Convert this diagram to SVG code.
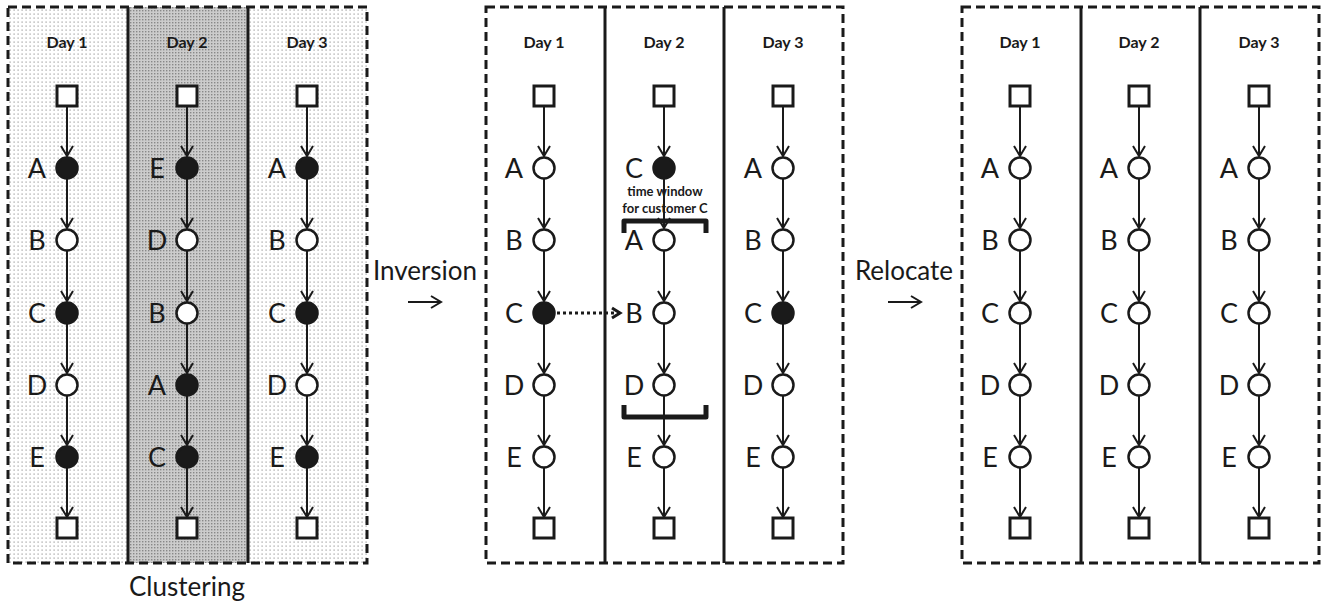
<svg xmlns="http://www.w3.org/2000/svg" width="1327" height="605" viewBox="0 0 1327 605">
<defs>
<pattern id="dots" width="4" height="4" patternUnits="userSpaceOnUse"><rect width="4" height="4" fill="#ffffff"/><rect x="1.5" y="1.5" width="1.2" height="1.2" fill="#9a9a9a"/></pattern>
<pattern id="dense" width="3" height="3" patternUnits="userSpaceOnUse"><rect width="3" height="3" fill="#cccccc"/><rect x="1" y="1" width="1.4" height="1.4" fill="#888888"/></pattern>
<marker id="ah" markerUnits="userSpaceOnUse" markerWidth="14" markerHeight="14" refX="11" refY="6" orient="auto" overflow="visible"><path d="M1,0 L11,6 L1,12" fill="none" stroke="#1a1a1a" stroke-width="2"/></marker>
<marker id="ahd" markerUnits="userSpaceOnUse" markerWidth="14" markerHeight="14" refX="10" refY="6" orient="auto" overflow="visible"><path d="M2,1 L10,6 L2,11" fill="none" stroke="#1a1a1a" stroke-width="3"/></marker>
</defs>
<style>
.frame{fill:none;stroke:#1a1a1a;stroke-width:3;stroke-dasharray:9 5}
.div{stroke:#1a1a1a;stroke-width:3}
.sq{fill:#fff;stroke:#1a1a1a;stroke-width:3}
.o{fill:#fff;stroke:#1a1a1a;stroke-width:2.5}
.f{fill:#1a1a1a;stroke:#1a1a1a;stroke-width:2.5}
.lbl{font-family:Lato,"Liberation Sans",sans-serif;font-size:27px;fill:#1a1a1a;text-anchor:middle}
.day{font-family:Lato,"Liberation Sans",sans-serif;font-size:16px;font-weight:bold;fill:#1a1a1a;text-anchor:middle}
.cap{font-family:Lato,"Liberation Sans",sans-serif;font-size:26px;fill:#1a1a1a;text-anchor:middle}
.tw{font-family:Lato,"Liberation Sans",sans-serif;font-size:13px;font-weight:bold;fill:#1a1a1a;text-anchor:middle}
.e{stroke:#1a1a1a;stroke-width:2;fill:none;marker-end:url(#ah)}
.br{fill:none;stroke:#1a1a1a;stroke-width:5;stroke-linejoin:round}
</style>

<g id="panel1-bg">
<rect x="8" y="7" width="120" height="556" fill="url(#dots)"/>
<rect x="128" y="7" width="120" height="556" fill="url(#dense)"/>
<rect x="248" y="7" width="119" height="556" fill="url(#dots)"/>
<line class="div" x1="128" y1="7" x2="128" y2="563"/>
<line class="div" x1="248" y1="7" x2="248" y2="563"/>
<rect class="frame" x="8" y="7" width="359" height="556"/>
</g>
<g id="panel2-bg">
<line class="div" x1="605" y1="7" x2="605" y2="563"/>
<line class="div" x1="724" y1="7" x2="724" y2="563"/>
<rect class="frame" x="486" y="7" width="357" height="556"/>
</g>
<g id="panel3-bg">
<line class="div" x1="1081" y1="7" x2="1081" y2="563"/>
<line class="div" x1="1200" y1="7" x2="1200" y2="563"/>
<rect class="frame" x="962" y="7" width="357" height="556"/>
</g>

<g id="connectors">
<path class="e" d="M67,107 V156"/><path class="e" d="M67,179 V228"/><path class="e" d="M67,251 V301"/><path class="e" d="M67,324 V373"/><path class="e" d="M67,396 V445"/><path class="e" d="M67,468 V517"/>
<path class="e" d="M187,107 V156"/><path class="e" d="M187,179 V228"/><path class="e" d="M187,251 V301"/><path class="e" d="M187,324 V373"/><path class="e" d="M187,396 V445"/><path class="e" d="M187,468 V517"/>
<path class="e" d="M307,107 V156"/><path class="e" d="M307,179 V228"/><path class="e" d="M307,251 V301"/><path class="e" d="M307,324 V373"/><path class="e" d="M307,396 V445"/><path class="e" d="M307,468 V517"/>
<path class="e" d="M544,107 V156"/><path class="e" d="M544,179 V228"/><path class="e" d="M544,251 V301"/><path class="e" d="M544,324 V373"/><path class="e" d="M544,396 V445"/><path class="e" d="M544,468 V517"/>
<path class="e" d="M664,107 V156"/><path class="e" d="M664,179 V228"/><path class="e" d="M664,251 V301"/><path class="e" d="M664,324 V373"/><path class="e" d="M664,396 V445"/><path class="e" d="M664,468 V517"/>
<path class="e" d="M783,107 V156"/><path class="e" d="M783,179 V228"/><path class="e" d="M783,251 V301"/><path class="e" d="M783,324 V373"/><path class="e" d="M783,396 V445"/><path class="e" d="M783,468 V517"/>
<path class="e" d="M1020,107 V156"/><path class="e" d="M1020,179 V228"/><path class="e" d="M1020,251 V301"/><path class="e" d="M1020,324 V373"/><path class="e" d="M1020,396 V445"/><path class="e" d="M1020,468 V517"/>
<path class="e" d="M1139,107 V156"/><path class="e" d="M1139,179 V228"/><path class="e" d="M1139,251 V301"/><path class="e" d="M1139,324 V373"/><path class="e" d="M1139,396 V445"/><path class="e" d="M1139,468 V517"/>
<path class="e" d="M1259,107 V156"/><path class="e" d="M1259,179 V228"/><path class="e" d="M1259,251 V301"/><path class="e" d="M1259,324 V373"/><path class="e" d="M1259,396 V445"/><path class="e" d="M1259,468 V517"/>
<line x1="557" y1="313" x2="620" y2="313" stroke="#1a1a1a" stroke-width="3" stroke-dasharray="3 3" marker-end="url(#ahd)"/>
<line x1="408" y1="302" x2="441" y2="302" stroke="#1a1a1a" stroke-width="2" marker-end="url(#ah)"/>
<line x1="888" y1="302" x2="921" y2="302" stroke="#1a1a1a" stroke-width="2" marker-end="url(#ah)"/>
</g>

<g id="p1-day1">
<text class="day" x="67" y="48">Day 1</text>
<rect class="sq" x="57" y="86" width="20" height="20"/>
<circle class="f" cx="67" cy="168" r="10.5"/><text class="lbl" x="37" y="178">A</text>
<circle class="o" cx="67" cy="240" r="10.5"/><text class="lbl" x="37" y="250">B</text>
<circle class="f" cx="67" cy="313" r="10.5"/><text class="lbl" x="37" y="323">C</text>
<circle class="o" cx="67" cy="385" r="10.5"/><text class="lbl" x="37" y="395">D</text>
<circle class="f" cx="67" cy="457" r="10.5"/><text class="lbl" x="37" y="467">E</text>
<rect class="sq" x="57" y="518" width="20" height="20"/>
</g>
<g id="p1-day2">
<text class="day" x="187" y="48">Day 2</text>
<rect class="sq" x="177" y="86" width="20" height="20"/>
<circle class="f" cx="187" cy="168" r="10.5"/><text class="lbl" x="157" y="178">E</text>
<circle class="o" cx="187" cy="240" r="10.5"/><text class="lbl" x="157" y="250">D</text>
<circle class="o" cx="187" cy="313" r="10.5"/><text class="lbl" x="157" y="323">B</text>
<circle class="f" cx="187" cy="385" r="10.5"/><text class="lbl" x="157" y="395">A</text>
<circle class="f" cx="187" cy="457" r="10.5"/><text class="lbl" x="157" y="467">C</text>
<rect class="sq" x="177" y="518" width="20" height="20"/>
</g>
<g id="p1-day3">
<text class="day" x="307" y="48">Day 3</text>
<rect class="sq" x="297" y="86" width="20" height="20"/>
<circle class="f" cx="307" cy="168" r="10.5"/><text class="lbl" x="277" y="178">A</text>
<circle class="o" cx="307" cy="240" r="10.5"/><text class="lbl" x="277" y="250">B</text>
<circle class="f" cx="307" cy="313" r="10.5"/><text class="lbl" x="277" y="323">C</text>
<circle class="o" cx="307" cy="385" r="10.5"/><text class="lbl" x="277" y="395">D</text>
<circle class="f" cx="307" cy="457" r="10.5"/><text class="lbl" x="277" y="467">E</text>
<rect class="sq" x="297" y="518" width="20" height="20"/>
</g>

<g id="p2-day1">
<text class="day" x="544" y="48">Day 1</text>
<rect class="sq" x="534" y="86" width="20" height="20"/>
<circle class="o" cx="544" cy="168" r="10.5"/><text class="lbl" x="514" y="178">A</text>
<circle class="o" cx="544" cy="240" r="10.5"/><text class="lbl" x="514" y="250">B</text>
<circle class="f" cx="544" cy="313" r="10.5"/><text class="lbl" x="514" y="323">C</text>
<circle class="o" cx="544" cy="385" r="10.5"/><text class="lbl" x="514" y="395">D</text>
<circle class="o" cx="544" cy="457" r="10.5"/><text class="lbl" x="514" y="467">E</text>
<rect class="sq" x="534" y="518" width="20" height="20"/>
</g>
<g id="p2-day2">
<text class="day" x="664" y="48">Day 2</text>
<rect class="sq" x="654" y="86" width="20" height="20"/>
<circle class="f" cx="664" cy="168" r="10.5"/><text class="lbl" x="634" y="178">C</text>
<circle class="o" cx="664" cy="240" r="10.5"/><text class="lbl" x="634" y="250">A</text>
<circle class="o" cx="664" cy="313" r="10.5"/><text class="lbl" x="634" y="323">B</text>
<circle class="o" cx="664" cy="385" r="10.5"/><text class="lbl" x="634" y="395">D</text>
<circle class="o" cx="664" cy="457" r="10.5"/><text class="lbl" x="634" y="467">E</text>
<rect class="sq" x="654" y="518" width="20" height="20"/>
</g>
<g id="p2-day3">
<text class="day" x="783" y="48">Day 3</text>
<rect class="sq" x="773" y="86" width="20" height="20"/>
<circle class="o" cx="783" cy="168" r="10.5"/><text class="lbl" x="753" y="178">A</text>
<circle class="o" cx="783" cy="240" r="10.5"/><text class="lbl" x="753" y="250">B</text>
<circle class="f" cx="783" cy="313" r="10.5"/><text class="lbl" x="753" y="323">C</text>
<circle class="o" cx="783" cy="385" r="10.5"/><text class="lbl" x="753" y="395">D</text>
<circle class="o" cx="783" cy="457" r="10.5"/><text class="lbl" x="753" y="467">E</text>
<rect class="sq" x="773" y="518" width="20" height="20"/>
</g>
<g id="time-window">
<text class="tw" x="665" y="196">time window</text>
<text class="tw" x="665" y="213">for customer C</text>
<path class="br" d="M624,233 V221 H706 V233"/>
<path class="br" d="M624,405 V417 H706 V405"/>
</g>

<g id="p3-day1">
<text class="day" x="1020" y="48">Day 1</text>
<rect class="sq" x="1010" y="86" width="20" height="20"/>
<circle class="o" cx="1020" cy="168" r="10.5"/><text class="lbl" x="990" y="178">A</text>
<circle class="o" cx="1020" cy="240" r="10.5"/><text class="lbl" x="990" y="250">B</text>
<circle class="o" cx="1020" cy="313" r="10.5"/><text class="lbl" x="990" y="323">C</text>
<circle class="o" cx="1020" cy="385" r="10.5"/><text class="lbl" x="990" y="395">D</text>
<circle class="o" cx="1020" cy="457" r="10.5"/><text class="lbl" x="990" y="467">E</text>
<rect class="sq" x="1010" y="518" width="20" height="20"/>
</g>
<g id="p3-day2">
<text class="day" x="1139" y="48">Day 2</text>
<rect class="sq" x="1129" y="86" width="20" height="20"/>
<circle class="o" cx="1139" cy="168" r="10.5"/><text class="lbl" x="1109" y="178">A</text>
<circle class="o" cx="1139" cy="240" r="10.5"/><text class="lbl" x="1109" y="250">B</text>
<circle class="o" cx="1139" cy="313" r="10.5"/><text class="lbl" x="1109" y="323">C</text>
<circle class="o" cx="1139" cy="385" r="10.5"/><text class="lbl" x="1109" y="395">D</text>
<circle class="o" cx="1139" cy="457" r="10.5"/><text class="lbl" x="1109" y="467">E</text>
<rect class="sq" x="1129" y="518" width="20" height="20"/>
</g>
<g id="p3-day3">
<text class="day" x="1259" y="48">Day 3</text>
<rect class="sq" x="1249" y="86" width="20" height="20"/>
<circle class="o" cx="1259" cy="168" r="10.5"/><text class="lbl" x="1229" y="178">A</text>
<circle class="o" cx="1259" cy="240" r="10.5"/><text class="lbl" x="1229" y="250">B</text>
<circle class="o" cx="1259" cy="313" r="10.5"/><text class="lbl" x="1229" y="323">C</text>
<circle class="o" cx="1259" cy="385" r="10.5"/><text class="lbl" x="1229" y="395">D</text>
<circle class="o" cx="1259" cy="457" r="10.5"/><text class="lbl" x="1229" y="467">E</text>
<rect class="sq" x="1249" y="518" width="20" height="20"/>
</g>

<g id="captions">
<text class="cap" x="425" y="280">Inversion</text>
<text class="cap" x="904" y="280">Relocate</text>
<text class="cap" x="187" y="596">Clustering</text>
</g>
</svg>
